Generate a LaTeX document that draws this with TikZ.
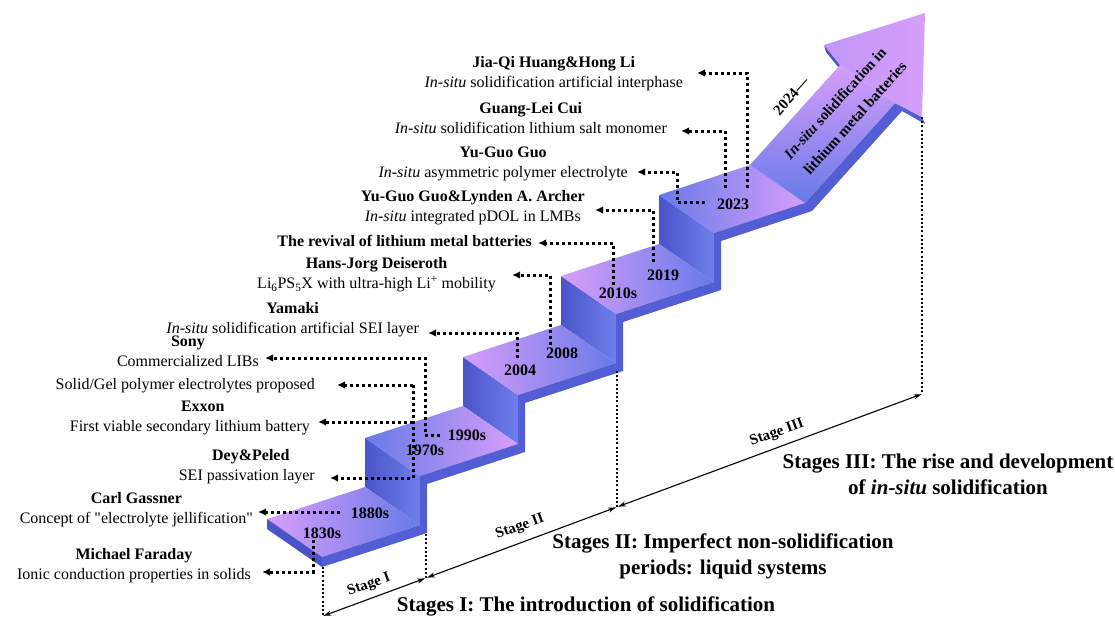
\documentclass[tikz,border=0pt]{standalone}
\usepackage{fontspec}
\setmainfont{Liberation Serif}
\usepackage{xcolor}
\definecolor{ColPink}{RGB}{214,158,250}
\definecolor{ColBlue}{RGB}{104,122,232}
\definecolor{ColDark}{RGB}{74,84,200}
\definecolor{ColMid}{RGB}{112,126,236}
\definecolor{ColBand}{RGB}{84,94,212}
\usepackage{tikz}
\usetikzlibrary{arrows.meta}
\usetikzlibrary{positioning}
\tikzstyle{TreadA}=[left color=ColPink,right color=ColBlue]
\tikzstyle{TreadB}=[left color=ColBlue,right color=ColPink]
\tikzstyle{Riser}=[left color=ColDark,right color=ColMid]
\tikzstyle{Band}=[fill=ColBand]
\tikzstyle{Lead}=[line width=3pt,dash pattern=on 3pt off 3pt,
-{Latex[length=8pt,width=7.5pt]}]
\tikzstyle{Mark}=[line width=2pt,dash pattern=on 2pt off 2.2pt]
\tikzstyle{Axis}=[line width=1.1pt,{Stealth[length=8pt,width=5pt]}-{Stealth[length=8pt,width=5pt]}]
\tikzstyle{Year}=[font=\fontsize{16}{18}\selectfont\bfseries,inner sep=0pt]
\tikzstyle{Who}=[font=\fontsize{16}{19}\selectfont\bfseries,inner sep=0pt,
text height=11pt,text depth=3.5pt]
\tikzstyle{What}=[font=\fontsize{16}{19}\selectfont,inner sep=0pt,
text height=11pt,text depth=3.5pt]
\tikzstyle{Caption}=[font=\fontsize{21}{26}\selectfont\bfseries,align=center,inner sep=0pt]
\tikzstyle{StageT}=[font=\fontsize{15}{17}\selectfont\bfseries,rotate=20,inner sep=0pt]
\tikzstyle{Shaft}=[font=\fontsize{15}{17}\selectfont\bfseries,rotate=48,inner sep=0pt]

\begin{document}
\begin{tikzpicture}[x=1pt,y=-1pt]
        \useasboundingbox (0,0) rectangle (1115,618);
        % staircase corners
        \foreach \i in {1,...,5}
            \coordinate (L\i) at ({267+98*(\i-1)},{519-81*(\i-1)});
        \foreach \i in {1,...,5}
            \coordinate (F\i) at ({322+98*(\i-1)},{557-81*(\i-1)});
        \foreach \i in {1,...,4}
            \coordinate (R\i) at ({420+98*(\i-1)},{525-81*(\i-1)});
        \coordinate (Bb) at (750,165);
        \coordinate (Fb) at (805,203);
        \coordinate (Bs) at (840,65);
        \coordinate (Fs) at (895,103);
        \coordinate (BarbL) at (824,45);
        \coordinate (Tip) at (925,13);
        \coordinate (BarbR) at (922,117);
        % risers and treads
        \foreach \i in {1,...,4}
            \shade[Riser]([shift={(98,-32)}]L\i)--++(55,38)--++(0,-49)--++(-55,-38)--cycle;
        \shade[TreadA](L1)--(F1)--(R1)--([shift={(98,-32)}]L1)--cycle;
        \shade[TreadB](L2)--(F2)--(R2)--([shift={(98,-32)}]L2)--cycle;
        \shade[TreadA](L3)--(F3)--(R3)--([shift={(98,-32)}]L3)--cycle;
        \shade[TreadA](L4)--(F4)--(R4)--([shift={(98,-32)}]L4)--cycle;
        \shade[TreadB](L5)--(F5)--(Fb)--(Bb)--cycle;
        % front band and end cap
        \fill[Band](F1)--(R1)--(F2)--(R2)--(F3)--(R3)--(F4)--(R4)--(F5)--(Fb)--(Fs)--(BarbR)
            --([shift={(3,7)}]BarbR)--([shift={(7,8)}]Fs)--([shift={(7,8)}]Fb)
            --([shift={(7,8)}]F5)--([shift={(7,8)}]R4)--([shift={(7,8)}]F4)
            --([shift={(7,8)}]R3)--([shift={(7,8)}]F3)--([shift={(7,8)}]R2)
            --([shift={(7,8)}]F2)--([shift={(7,8)}]R1)--([shift={(0,10)}]F1)--cycle;
        \fill[ColDark](L1)--(F1)--([shift={(0,10)}]F1)--([shift={(0,10)}]L1)--cycle;
        % arrow
        \fill[ColDark](BarbL)--(Bs)--([shift={(3,8)}]Bs)--([shift={(2,7)}]BarbL)--cycle;
        \shade[bottom color=ColBlue,top color=ColPink](Bb)--(Fb)--(Fs)--(Bs)--cycle;
        \shade[left color=ColPink!80!ColBlue,right color=ColPink]
            (Bs)--(BarbL)--(Tip)--(BarbR)--(Fs)--cycle;
        \node[Shaft](shA)at(835,103){\textit{In-situ} solidification in};
        \node[Shaft](shB)at(855,118){lithium metal batteries};
        \node[Shaft](y2024)at(791,96){2024---};
        % events
        \node[What,anchor=east](mfS)at(251,576){Ionic conduction properties in solids};
        \node[Who,above=5.5pt of mfS](mfT){Michael Faraday};
        \node[What,anchor=east](cgS)at(253,520){Concept of \textquotedbl electrolyte jellification\textquotedbl};
        \node[Who,above=5.5pt of cgS](cgT){Carl Gassner};
        \node[What,anchor=east](dpS)at(315,477){SEI passivation layer};
        \node[Who,above=5.5pt of dpS,xshift=4pt](dpT){Dey\&Peled};
        \node[What,anchor=east](exS)at(310,428){First viable secondary lithium battery};
        \node[Who,above=5.5pt of exS,xshift=13pt](exT){Exxon};
        \node[What,anchor=east](sgS)at(315,386){Solid/Gel polymer electrolytes proposed};
        \node[What,anchor=east](soS)at(259,363){Commercialized LIBs};
        \node[Who,above=5.5pt of soS](soT){Sony};
        \node[What,anchor=east](yaS)at(419,330){\textit{In-situ} solidification artificial SEI layer};
        \node[Who,above=5.5pt of yaS](yaT){Yamaki};
        \node[What,anchor=east](hjS)at(496,285)
            {Li\textsubscript{6}PS\textsubscript{5}X with ultra-high Li\textsuperscript{+} mobility};
        \node[Who,above=5.5pt of hjS](hjT){Hans-Jorg Deiseroth};
        \node[Who,anchor=east](rvT)at(532,243){The revival of lithium metal batteries};
        \node[What,anchor=east](arS)at(581,218){\textit{In-situ} integrated pDOL in LMBs};
        \node[Who,above=5.5pt of arS](arT){Yu-Guo Guo\&Lynden A. Archer};
        \node[What,anchor=east](ygS)at(628,174){\textit{In-situ} asymmetric polymer electrolyte};
        \node[Who,above=5.5pt of ygS](ygT){Yu-Guo Guo};
        \node[What,anchor=east](glS)at(667,130){\textit{In-situ} solidification lithium salt monomer};
        \node[Who,above=5.5pt of glS](glT){Guang-Lei Cui};
        \node[What,anchor=east](jqS)at(683,84){\textit{In-situ} solidification artificial interphase};
        \node[Who,above=5.5pt of jqS](jqT){Jia-Qi Huang\&Hong Li};
        % years
        \node[Year](y1830)at(322,533){1830s};
        \node[Year](y1880)at(370,513){1880s};
        \node[Year](y1970)at(425,450){1970s};
        \node[Year](y1990)at(467,435){1990s};
        \node[Year](y2004)at(520,370){2004};
        \node[Year](y2008)at(562,353){2008};
        \node[Year](y2010)at(618,293){2010s};
        \node[Year](y2019)at(663,275){2019};
        \node[Year](y2023)at(733,204){2023};
        % leaders
        \coordinate(s1830)at(313,540); \coordinate(tMF)at(262,572);
        \coordinate(s1880)at(340,512); \coordinate(tCG)at(258,512);
        \coordinate(s1970)at(413,385); \coordinate(tSG)at(337,385);
        \coordinate(tEX)at(318,422); \coordinate(tDP)at(330,478);
        \coordinate(s1990)at(440,435); \coordinate(k1990)at(425,435);
        \coordinate(tSO)at(265,358);
        \coordinate(s2004)at(517,358); \coordinate(tYA)at(428,333);
        \coordinate(s2008)at(550,345); \coordinate(tHJ)at(512,275);
        \coordinate(s2010)at(613,285); \coordinate(tRV)at(538,243);
        \coordinate(s2019)at(653,262); \coordinate(tAR)at(595,210);
        \coordinate(s2023c)at(705,202); \coordinate(k2023)at(677,202);
        \coordinate(tYG)at(637,172);
        \coordinate(s2023b)at(725,188); \coordinate(tGL)at(681,131);
        \coordinate(s2023a)at(747,188); \coordinate(tJQ)at(697,73);
        \draw[Lead](s1830)|-(tMF);
        \draw[Lead](s1880)--(tCG);
        \draw[Lead](s1970)--(tSG);
        \draw[Lead](s1970)|-(tDP);
        \draw[Lead](s1970|-tEX)--(tEX);
        \draw[Lead](s1990)--(k1990)|-(tSO);
        \draw[Lead](s2004)|-(tYA);
        \draw[Lead](s2008)|-(tHJ);
        \draw[Lead](s2010)|-(tRV);
        \draw[Lead](s2019)|-(tAR);
        \draw[Lead](s2023c)--(k2023)|-(tYG);
        \draw[Lead](s2023b)|-(tGL);
        \draw[Lead](s2023a)|-(tJQ);
        % stages
        \coordinate(A0)at(323,616); \coordinate(M0)at(323,567);
        \coordinate(A1)at(426,578); \coordinate(M1)at(426,534);
        \coordinate(A2)at(617,507); \coordinate(M2)at(617,371);
        \coordinate(A3)at(922,394);
        \draw[Mark](M0)--(A0);
        \draw[Mark](M1)--(A1);
        \draw[Mark](M2)--(A2);
        \draw[Mark](BarbR)--(A3);
        \draw[Axis,shorten <=0.5pt,shorten >=1pt](A0)--(A1);
        \draw[Axis,shorten <=1pt,shorten >=1pt](A1)--(A2);
        \draw[Axis,shorten <=1pt,shorten >=0.5pt](A2)--(A3);
        \node[StageT](stI)at(369,585){Stage I};
        \node[StageT](stII)at(520,527){Stage II};
        \node[StageT](stIII)at(777,433){Stage III};
        \node[Caption](capI)at(586,606){Stages I: The introduction of solidification};
        \node[Caption](capII)at(723,556){Stages II: Imperfect non-solidification\\periods: liquid systems};
        \node[Caption](capIII)at(948,474){Stages III: The rise and development\\of \textit{in-situ} solidification};
\end{tikzpicture}
\end{document}
